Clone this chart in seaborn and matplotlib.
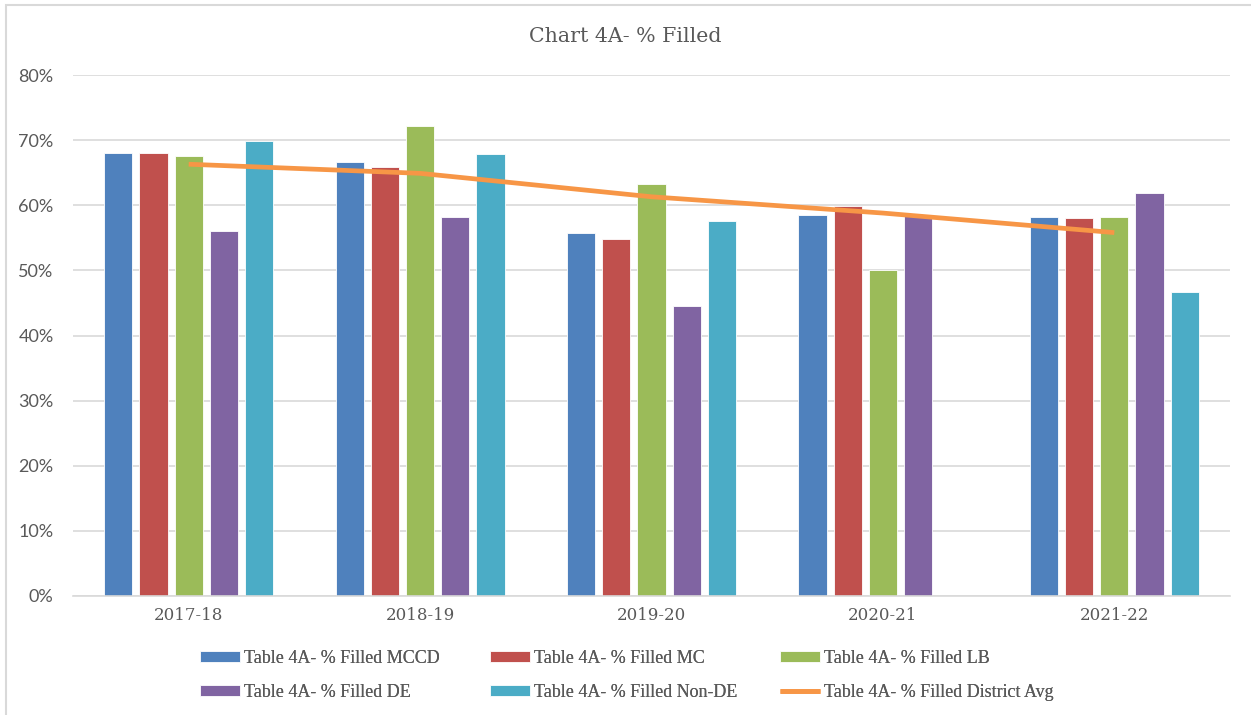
import pandas as pd
import matplotlib.pyplot as plt
import numpy as np
import seaborn as sns
from matplotlib.patches import Rectangle
from matplotlib.ticker import PercentFormatter

# --- 1. Chart data ---
years = ['2017-18', '2018-19', '2019-20', '2020-21', '2021-22']
series = ['Table 4A- % Filled MCCD', 'Table 4A- % Filled MC', 'Table 4A- % Filled LB',
          'Table 4A- % Filled DE', 'Table 4A- % Filled Non-DE']
mccd = [0.680, 0.667, 0.558, 0.585, 0.582]
mc = [0.680, 0.658, 0.548, 0.599, 0.581]
lb = [0.676, 0.722, 0.632, 0.501, 0.582]
de = [0.560, 0.582, 0.446, 0.585, 0.619]
non_de = [0.699, 0.678, 0.576, np.nan, 0.467]
district_avg = [0.663, 0.649, 0.613, 0.588, 0.558]
avg_label = 'Table 4A- % Filled District Avg'

colors = ['#4F81BD', '#C0504D', '#9BBB59', '#8064A2', '#4BACC6']
avg_color = '#F79646'
text_color = '#595959'
grid_color = '#D9D9D9'

# --- 2. Long table for seaborn ---
rows = []
for name, vals in zip(series, [mccd, mc, lb, de, non_de]):
    for yr, v in zip(years, vals):
        rows.append({'year': yr, 'series': name, 'value': v})
df = pd.DataFrame(rows)

# --- 3. Figure ---
sns.set_style('white')
fig = plt.figure(figsize=(12.51, 7.15), dpi=100)
ax = fig.add_axes([73 / 1251, 1 - 596 / 715, (1230 - 73) / 1251, (596 - 75) / 715])

sns.barplot(data=df, x='year', y='value', hue='series', hue_order=series, order=years,
            palette=colors, width=0.76, gap=0.2, ax=ax, edgecolor='white', linewidth=0.6,
            saturation=1, legend=True)
bar_handles, bar_labels = ax.get_legend_handles_labels()
ax.get_legend().remove()

line, = ax.plot(np.arange(len(years)), district_avg, color=avg_color, linewidth=3.4,
                solid_capstyle='butt', label=avg_label, zorder=5)

# --- 4. Axes styling ---
ax.set_xlim(-0.5, len(years) - 0.5)
ax.set_ylim(0, 0.8)
ax.set_yticks(np.arange(0, 0.81, 0.1))
ax.yaxis.set_major_formatter(PercentFormatter(1.0, decimals=0))
ax.grid(True, axis='y', color=grid_color, linewidth=1.2)
ax.set_axisbelow(True)
for side in ['top', 'right', 'left']:
    ax.spines[side].set_visible(False)
ax.spines['bottom'].set_color(grid_color)
ax.spines['bottom'].set_linewidth(1.2)
ax.set_xlabel('')
ax.set_ylabel('')
ax.tick_params(axis='both', length=0, colors=text_color)
ax.tick_params(axis='y', pad=14)
ax.tick_params(axis='x', pad=8)
for t in ax.get_yticklabels():
    t.set_fontfamily('Lato')
    t.set_fontsize(13)
for t in ax.get_xticklabels():
    t.set_fontfamily('DejaVu Serif')
    t.set_fontsize(12)

fig.text(0.5, 1 - 37 / 715, 'Chart 4A- % Filled', ha='center', va='center',
         family='DejaVu Serif', fontsize=14.8, color=text_color)

# --- 5. Legend: three columns, two rows ---
handles = bar_handles + [line]
labels = bar_labels + [avg_label]
col_x = [200, 490, 780]
for c in range(3):
    idx = [c, c + 3]
    leg = fig.legend([handles[i] for i in idx], [labels[i] for i in idx],
                     loc='upper left', bbox_to_anchor=(col_x[c] / 1251, 1 - 650 / 715),
                     frameon=False, borderpad=0, borderaxespad=0, handlelength=2.2,
                     handleheight=0.55, handletextpad=0.25, labelspacing=0.95,
                     prop={'family': 'Liberation Serif', 'size': 13})
    for t in leg.get_texts():
        t.set_color(text_color)
    fig.add_artist(leg)

# --- 6. Outer chart border (left and top edges visible) ---
fig.add_artist(Rectangle((6 / 1251, -0.1), 1.2, 1.1 - 5 / 715, transform=fig.transFigure,
                         fill=False, edgecolor=grid_color, linewidth=1.5, clip_on=False))

fig.savefig('out.png', dpi=100)
